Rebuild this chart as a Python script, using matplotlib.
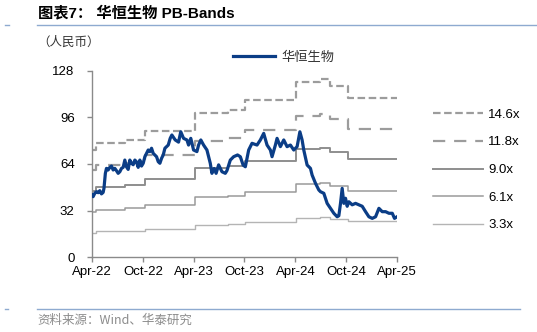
import matplotlib
matplotlib.use("Agg")
import matplotlib.pyplot as plt
import matplotlib.dates as mdates
from matplotlib.lines import Line2D
import pandas as pd

# price (CNY)
PRICE_DATES = [
    "2022-04-01", "2022-04-05", "2022-04-11", "2022-04-17", "2022-04-23", "2022-04-29",
    "2022-05-05", "2022-05-11", "2022-05-14", "2022-05-19", "2022-05-23", "2022-05-29",
    "2022-06-04", "2022-06-10", "2022-06-16", "2022-06-22", "2022-06-28", "2022-07-04",
    "2022-07-10", "2022-07-16", "2022-07-22", "2022-07-28", "2022-08-03", "2022-08-09",
    "2022-08-15", "2022-08-21", "2022-08-27", "2022-09-02", "2022-09-08", "2022-09-14",
    "2022-09-20", "2022-09-26", "2022-10-02", "2022-10-08", "2022-10-14", "2022-10-20",
    "2022-10-26", "2022-11-01", "2022-11-07", "2022-11-13", "2022-11-19", "2022-11-25",
    "2022-12-01", "2022-12-07", "2022-12-13", "2022-12-19", "2022-12-25", "2022-12-31",
    "2023-01-07", "2023-01-13", "2023-01-25", "2023-02-06", "2023-02-14", "2023-02-24",
    "2023-03-08", "2023-03-14", "2023-03-22", "2023-04-01", "2023-04-13", "2023-04-19",
    "2023-04-27", "2023-05-07", "2023-05-19", "2023-05-31", "2023-06-06", "2023-06-14",
    "2023-06-21", "2023-06-30", "2023-07-12", "2023-07-24", "2023-07-30", "2023-08-11",
    "2023-08-23", "2023-09-06", "2023-09-16", "2023-09-26", "2023-10-04", "2023-10-16",
    "2023-10-28", "2023-11-15", "2023-11-27", "2023-12-09", "2023-12-21", "2024-01-02",
    "2024-01-08", "2024-01-20", "2024-01-26", "2024-02-07", "2024-02-19", "2024-03-02",
    "2024-03-14", "2024-03-26", "2024-04-07", "2024-04-17", "2024-04-25", "2024-05-01",
    "2024-05-13", "2024-05-25", "2024-05-31", "2024-06-12", "2024-06-24", "2024-06-30",
    "2024-07-12", "2024-07-24", "2024-08-05", "2024-08-17", "2024-08-29", "2024-09-04",
    "2024-09-10", "2024-09-16", "2024-09-22", "2024-09-28", "2024-10-04", "2024-10-10",
    "2024-10-22", "2024-11-03", "2024-11-15", "2024-11-27", "2024-12-09", "2024-12-21",
    "2025-01-02", "2025-01-14", "2025-01-26", "2025-02-07", "2025-02-19", "2025-03-03",
    "2025-03-15", "2025-03-23", "2025-04-01",
]
PRICE = [
    42.7, 41.6, 43.9, 45.0, 44.3, 45.7,
    43.5, 44.5, 47.3, 57.6, 61.0, 59.9,
    61.7, 62.6, 59.9, 61.0, 59.4, 57.6,
    58.7, 61.0, 61.7, 66.7, 62.0, 60.3,
    66.7, 64.5, 63.5, 66.7, 65.5, 61.7,
    66.7, 62.6, 64.5, 69.0, 71.3, 73.6,
    72.5, 74.8, 71.3, 70.2, 69.0, 65.6,
    64.5, 67.9, 70.2, 74.8, 75.9, 77.0,
    81.6, 83.9, 80.5, 79.0, 86.1, 81.6,
    80.5, 77.0, 81.6, 73.6, 72.5, 77.0,
    80.5, 77.0, 73.6, 64.5, 57.6, 60.9,
    57.6, 63.4, 58.7, 57.6, 59.5, 66.7,
    69.0, 70.2, 69.0, 63.3, 62.1, 73.6,
    78.2, 77.0, 80.5, 85.0, 77.0, 73.6,
    69.0, 77.0, 81.6, 75.9, 80.5, 75.9,
    77.0, 73.6, 75.9, 86.1, 80.5, 73.6,
    63.3, 61.0, 56.4, 50.8, 46.2, 45.0,
    43.9, 37.0, 33.6, 30.2, 27.8, 28.5,
    37.0, 47.3, 37.0, 40.5, 35.0, 38.1,
    36.0, 37.0, 36.0, 35.0, 31.3, 27.8,
    26.7, 27.8, 33.6, 31.3, 31.3, 30.2,
    30.2, 26.7, 27.8,
]

# PB band step values
BAND_DATES = [
    "2022-04-01", "2022-04-15", "2022-07-28", "2022-10-08", "2023-04-05", "2023-08-03",
    "2023-10-04", "2024-04-02", "2024-06-30", "2024-08-05", "2024-10-08", "2025-04-01",
]
BAND_LABELS = ["14.6x", "11.8x", "9.0x", "6.1x", "3.3x"]
BAND_146 = [73.7, 78.3, 80.3, 86.6, 99.0, 101.0, 107.7, 120.0, 122.1, 117.7, 109.1, 109.1]
BAND_118 = [59.6, 63.2, 64.9, 70.0, 80.0, 81.7, 87.1, 97.0, 98.6, 95.1, 88.1, 88.1]
BAND_90 = [45.5, 48.2, 49.5, 53.4, 61.0, 62.3, 66.4, 74.0, 75.2, 72.5, 67.2, 67.2]
BAND_61 = [30.8, 32.7, 33.6, 36.2, 41.4, 42.2, 45.0, 50.1, 51.0, 49.2, 45.6, 45.6]
BAND_33 = [16.7, 17.7, 18.2, 19.6, 22.4, 22.8, 24.4, 27.1, 27.6, 26.6, 24.7, 24.7]

X_TICKS = ["2022-04-01", "2022-10-01", "2023-04-01", "2023-10-01",
           "2024-04-01", "2024-10-01", "2025-04-01"]
Y_TICKS = [0, 32, 64, 96, 128]


def main() -> None:
    plt.rcParams["font.family"] = ["Liberation Sans", "Noto Sans CJK SC", "DejaVu Sans"]
    fig = plt.figure(figsize=(5.37, 3.32), dpi=100)
    ax = fig.add_axes([92 / 537, 1 - 257.3 / 332, 305 / 537, 186.6 / 332])

    bd = pd.to_datetime(BAND_DATES)
    styles = [
        dict(color="#9c9c9c", lw=1.6, ls=(0, (3.4, 1.6))),
        dict(color="#9c9c9c", lw=1.6, ls=(0, (5.5, 4.0))),
        dict(color="#8e8e8e", lw=1.4, ls="-"),
        dict(color="#9a9a9a", lw=1.1, ls="-"),
        dict(color="#b4b4b4", lw=1.0, ls="-"),
    ]
    band_lines = []
    for vals, st in zip([BAND_146, BAND_118, BAND_90, BAND_61, BAND_33], styles):
        (ln,) = ax.plot(bd, vals, drawstyle="steps-post", **st)
        band_lines.append(ln)

    (price_line,) = ax.plot(pd.to_datetime(PRICE_DATES), PRICE, color="#0b3d86", lw=2.3,
                            solid_joinstyle="round", zorder=5)

    ax.set_xlim(pd.Timestamp("2022-04-01"), pd.Timestamp("2025-04-01"))
    ax.set_ylim(0, 128)
    ax.set_xticks(pd.to_datetime(X_TICKS))
    ax.xaxis.set_major_formatter(mdates.DateFormatter("%b-%y"))
    ax.set_yticks(Y_TICKS)
    for s in ["top", "right"]:
        ax.spines[s].set_visible(False)
    for s in ["left", "bottom"]:
        ax.spines[s].set_color("#8a8a8a")
        ax.spines[s].set_linewidth(1.0)
    ax.tick_params(axis="both", colors="#8a8a8a", labelcolor="black", labelsize=9.5,
                   length=3.5, width=1.0, direction="out")
    ax.tick_params(axis="y", pad=9)
    ax.tick_params(axis="x", pad=3)

    leg1 = ax.legend([price_line], ["华恒生物"], loc="center left",
                     bbox_to_anchor=(233 / 537, 1 - 57 / 332), bbox_transform=fig.transFigure,
                     frameon=False, handlelength=3.2, handletextpad=0.5,
                     borderpad=0, borderaxespad=0,
                     prop={"family": ["Noto Sans CJK SC"], "size": 9.5})
    for t in leg1.get_texts():
        t.set_color("#333333")
    ax.add_artist(leg1)
    ax.legend(band_lines, BAND_LABELS, loc="center left",
              bbox_to_anchor=(433 / 537, 1 - 170 / 332), bbox_transform=fig.transFigure,
              frameon=False, fontsize=9.5, handlelength=3.8, handletextpad=0.4,
              labelspacing=1.17, borderpad=0, borderaxespad=0)

    fig.text(38 / 537, 1 - 13 / 332, "图表7： 华恒生物 PB-Bands", fontsize=11, fontweight="bold",
             va="center", ha="left", family=["Liberation Sans", "Noto Sans CJK SC"])
    fig.text(37 / 537, 1 - 42 / 332, "（人民币）", fontsize=9, color="#333333",
             va="center", ha="left", family=["Noto Sans CJK SC"])
    fig.text(37 / 537, 1 - 320 / 332, "资料来源：Wind、华泰研究", fontsize=9, color="#8c8c8c",
             va="center", ha="left", family=["Noto Sans CJK SC", "Liberation Sans"])

    line_c = "#8eaad0"
    fig.add_artist(Line2D([37 / 537, 1.0], [1 - 24.5 / 332] * 2, color=line_c, lw=1.0))
    fig.add_artist(Line2D([5 / 537, 9 / 537], [1 - 24.5 / 332] * 2, color=line_c, lw=1.0))
    fig.add_artist(Line2D([37 / 537, 520 / 537], [1 - 308.5 / 332] * 2, color=line_c, lw=1.0))
    fig.add_artist(Line2D([5 / 537, 8 / 537], [1 - 308.5 / 332] * 2, color=line_c, lw=1.0))

    fig.savefig("out.png", dpi=100)
    plt.close(fig)


if __name__ == "__main__":
    main()
